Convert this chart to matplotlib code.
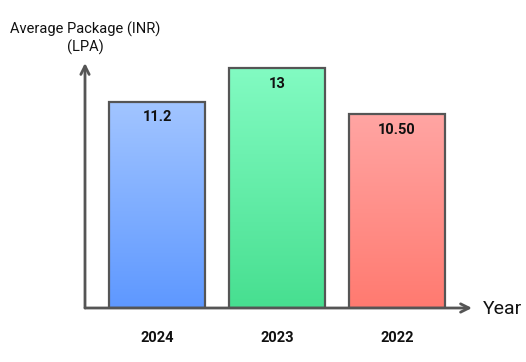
import matplotlib
matplotlib.use("Agg")
import matplotlib.pyplot as plt
import numpy as np
from matplotlib.colors import LinearSegmentedColormap

plt.rcParams['font.family'] = ['Roboto', 'DejaVu Sans']

years = ["2024", "2023", "2022"]
packages = [11.2, 13, 10.5]
labels = ["11.2", "13", "10.50"]
top_colors = ["#a2c5ff", "#82fbc2", "#ffa5a3"]
bottom_colors = ["#5e98ff", "#47df90", "#ff7a70"]

W, H = 526, 362
fig = plt.figure(figsize=(W / 100, H / 100), dpi=100)
ax = fig.add_axes([85 / W, (H - 308) / H, (472 - 85) / W, (308 - 63) / H])
ax.set_xlim(-0.6, 2.625)
ax.set_ylim(0, 13.29)
ax.axis("off")

x = np.arange(len(years))
bars = ax.bar(x, packages, width=0.8, facecolor="none", edgecolor="#555555", linewidth=1.6, zorder=3)

grad = np.linspace(1, 0, 256).reshape(-1, 1)
for b, v, tc, bc, lab in zip(bars, packages, top_colors, bottom_colors, labels):
    cmap = LinearSegmentedColormap.from_list("g", [bc, tc])
    x0 = b.get_x()
    im = ax.imshow(grad, extent=[x0, x0 + b.get_width(), 0, v], aspect="auto",
                   cmap=cmap, vmin=0, vmax=1, origin="upper", zorder=2)
    im.set_clip_path(b)
    ax.text(b.get_x() + b.get_width() / 2, v - 0.85, lab, ha="center", va="center",
            fontsize=10.5, fontweight="bold", color="#111111", zorder=4)

# axes with arrows
for end in [(1, 0), (0, 1)]:
    ax.annotate("", xy=end, xytext=(0, 0), xycoords="axes fraction",
                arrowprops=dict(arrowstyle="->", color="#555555", lw=2, mutation_scale=15,
                                shrinkA=0, shrinkB=0), annotation_clip=False)

for xi, yr in zip(x, years):
    ax.text(xi, -1.65, yr, ha="center", va="center", fontsize=10.5,
            fontweight="bold", color="#111111")

fig.text(483 / W, 1 - 309 / H, "Year", ha="left", va="center", fontsize=14, color="#111111")
fig.text(85 / W, 1 - 38 / H, "Average Package (INR)\n(LPA)", ha="center", va="center",
         fontsize=10.5, color="#111111", linespacing=1.2)

fig.savefig("out.png", dpi=100)
